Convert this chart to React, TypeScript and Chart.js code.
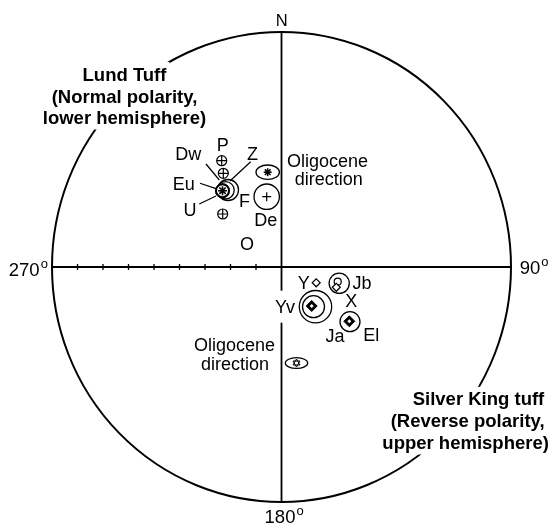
import React, { useEffect, useRef } from 'react';
import { Chart, registerables } from 'chart.js';

Chart.register(...registerables);

const FONT = '"Liberation Sans", Arial, Helvetica, sans-serif';

// ---- Net frame (values in net degrees, centre = 0, rim = 90) ----
const netRange = 90;
const tickValues = [-80, -70, -60, -50, -40, -30, -20, -10];

const compassText = ['N', '90', '180', '270'];
const compassDegree = [false, true, true, true];
const compassX = [0.08, 97.45, -0.59, -100.9];
const compassY = [94.4, -0.19, -95.55, -0.77];

// ---- Site directions (net x / y) ----
const crossCircleX = [-23.45, -22.82, -23.06];
const crossCircleY = [40.71, 35.89, 20.3];
const hashX = [-23.14];
const hashY = [29.22];
const asteriskX = [-5.41];
const asteriskY = [36.31];
const plusX = [-5.8];
const plusY = [26.92];
const openDiamondX = [13.61, 21.49];
const openDiamondY = [-6.05, -7.77];
const smallCircleX = [22.04];
const smallCircleY = [-5.63];
const solidDiamondX = [11.84, 26.59];
const solidDiamondY = [-14.94, -20.8];
const starX = [5.88];
const starY = [-36.77];

// ---- Confidence ovals (centre x/y, semi-axes in net degrees) ----
const ovalX = [-23.14, -21.96, -20.98, -5.41, -5.8, 22.63, 13.33, 12.55, 26.86, 5.88];
const ovalY = [29.22, 29.37, 29.49, 36.31, 26.92, -6.24, -15.2, -15.2, -20.95, -36.77];
const ovalRx = [2.63, 3.41, 4.12, 4.59, 4.98, 3.96, 6.35, 4.31, 3.92, 4.39];
const ovalRy = [2.57, 3.33, 4.02, 2.76, 4.86, 3.87, 6.2, 4.21, 3.83, 2.05];

// ---- Site labels ----
const labelText = ['P', 'Dw', 'Eu', 'U', 'Z', 'F', 'De', 'O', 'Y', 'Jb', 'Yv', 'X', 'Ja', 'El'];
const labelX = [-23.02, -36.55, -38.35, -35.88, -11.37, -14.51, -6.2, -13.53, 8.71, 31.57, 1.37, 27.37, 20.98, 35.22];
const labelY = [47.03, 43.28, 32.06, 21.83, 43.54, 25.54, 18.11, 8.81, -6.05, -5.94, -15.2, -12.94, -26.35, -26.04];

// ---- Leader lines ----
const leaderFromX = [-29.61, -31.96, -32.24, -12.08];
const leaderFromY = [39.45, 32.06, 24.13, 40.33];
const leaderToX = [-24.39, -25.69, -25.69, -20.2];
const leaderToY = [33.32, 29.99, 27.19, 32.94];

// ---- Notes ----
const noteText = ['Oligocene', 'direction', 'Oligocene', 'direction'];
const noteX = [18.04, 18.55, -18.43, -18.24];
const noteY = [40.6, 33.78, -29.68, -36.88];

// ---- Titles ----
const titleText = [
  'Lund Tuff',
  '(Normal polarity,',
  'lower hemisphere)',
  'Silver King tuff',
  '(Reverse polarity,',
  'upper hemisphere)',
];
const titleX = [-61.57, -61.57, -61.57, 77.25, 73.0, 72.2];
const titleY = [73.92, 65.49, 57.26, -50.48, -58.9, -67.21];

const pts = (xs: number[], ys: number[]) => xs.map((x, i) => ({ x, y: ys[i] }));

function setFont(ctx: CanvasRenderingContext2D, size: number, bold: boolean) {
  ctx.font = `${bold ? 'bold ' : ''}${size}px ${FONT}`;
}

function drawCentered(
  ctx: CanvasRenderingContext2D,
  s: string,
  x: number,
  y: number,
  size: number,
  bold: boolean,
) {
  setFont(ctx, size, bold);
  ctx.textAlign = 'center';
  ctx.textBaseline = 'alphabetic';
  ctx.fillStyle = '#000';
  ctx.fillText(s, x, y + 0.358 * size);
}

const netPlugin = {
  id: 'stereonet',
  beforeDatasetsDraw(chart: any) {
    const ctx: CanvasRenderingContext2D = chart.ctx;
    const xs = chart.scales.x;
    const ys = chart.scales.y;
    const X = (v: number) => xs.getPixelForValue(v);
    const Y = (v: number) => ys.getPixelForValue(v);
    const cx = X(0);
    const cy = Y(0);
    const rx = X(netRange) - cx;
    const ry = cy - Y(netRange);

    ctx.save();
    ctx.strokeStyle = '#000';
    ctx.lineCap = 'butt';

    // primitive circle
    ctx.lineWidth = 2;
    ctx.beginPath();
    ctx.ellipse(cx, cy, rx, ry, 0, 0, Math.PI * 2);
    ctx.stroke();

    // axes
    ctx.lineWidth = 1.8;
    ctx.beginPath();
    ctx.moveTo(X(-netRange), cy);
    ctx.lineTo(X(netRange), cy);
    ctx.moveTo(cx, Y(netRange));
    ctx.lineTo(cx, Y(-netRange));
    ctx.stroke();

    // ticks
    ctx.lineWidth = 1.3;
    ctx.beginPath();
    tickValues.forEach((t) => {
      const px = X(t);
      ctx.moveTo(px, cy - 3);
      ctx.lineTo(px, cy + 3);
    });
    ctx.stroke();

    // confidence ovals
    ctx.lineWidth = 1.3;
    ovalX.forEach((ox, i) => {
      const px = X(ox);
      const py = Y(ovalY[i]);
      const a = X(ox + ovalRx[i]) - px;
      const b = py - Y(ovalY[i] + ovalRy[i]);
      ctx.beginPath();
      ctx.ellipse(px, py, a, b, 0, 0, Math.PI * 2);
      ctx.stroke();
    });

    // leader lines
    ctx.lineWidth = 1.2;
    ctx.beginPath();
    leaderFromX.forEach((fx, i) => {
      ctx.moveTo(X(fx), Y(leaderFromY[i]));
      ctx.lineTo(X(leaderToX[i]), Y(leaderToY[i]));
    });
    ctx.stroke();

    // site labels (white knock-out where they cross the N-S axis)
    const labelSize = 18;
    labelText.forEach((s, i) => {
      const px = X(labelX[i]);
      const py = Y(labelY[i]);
      setFont(ctx, labelSize, false);
      const w = ctx.measureText(s).width;
      if (px - w / 2 - 2 < cx && px + w / 2 + 2 > cx) {
        ctx.fillStyle = '#fff';
        ctx.fillRect(px - w / 2 - 2, py - 16, w + 4, 32);
      }
      drawCentered(ctx, s, px, py, labelSize, false);
    });

    // notes
    noteText.forEach((s, i) => {
      drawCentered(ctx, s, X(noteX[i]), Y(noteY[i]), 18, false);
    });

    // titles with white knock-out over the primitive circle
    const titleSize = 18.5;
    titleText.forEach((s, i) => {
      const px = X(titleX[i]);
      const py = Y(titleY[i]);
      setFont(ctx, titleSize, true);
      const w = ctx.measureText(s).width;
      ctx.fillStyle = '#fff';
      ctx.fillRect(px - w / 2 - 3, py - 12, w + 6, 24);
    });
    titleText.forEach((s, i) => {
      drawCentered(ctx, s, X(titleX[i]), Y(titleY[i]), titleSize, true);
    });

    // compass labels
    compassText.forEach((s, i) => {
      const px = X(compassX[i]);
      const py = Y(compassY[i]);
      const size = compassDegree[i] ? 18.5 : 16.5;
      drawCentered(ctx, s, px, py, size, false);
      if (compassDegree[i]) {
        setFont(ctx, size, false);
        const w = ctx.measureText(s).width;
        setFont(ctx, 13, false);
        ctx.textAlign = 'left';
        ctx.textBaseline = 'alphabetic';
        ctx.fillText('o', px + w / 2 + 1, py - 4.5 + 0.26 * 13);
      }
    });

    ctx.restore();
  },
};

export default function App() {
  const ref = useRef<HTMLCanvasElement | null>(null);

  useEffect(() => {
    if (!ref.current) return;
    const black = '#000';
    const base = {
      showLine: false,
      borderColor: black,
      pointBorderColor: black,
      pointHoverRadius: 0,
    };
    // Chart.js paints the first dataset last (on top): overlays come first.
    const chart = new Chart(ref.current, {
      type: 'scatter',
      data: {
        datasets: [
          { ...base, data: pts(crossCircleX, crossCircleY), pointStyle: 'cross', pointRadius: 5, pointBorderWidth: 1.2 },
          { ...base, data: pts(crossCircleX, crossCircleY), pointStyle: 'circle', pointRadius: 5, pointBorderWidth: 1.2, pointBackgroundColor: '#fff' },
          { ...base, data: pts(hashX, hashY), pointStyle: 'star', pointRadius: 4.5, pointBorderWidth: 1.6 },
          { ...base, data: pts(hashX, hashY), pointStyle: 'circle', pointRadius: 6.5, pointBorderWidth: 2, pointBackgroundColor: '#fff' },
          { ...base, data: pts(asteriskX, asteriskY), pointStyle: 'star', pointRadius: 4, pointBorderWidth: 1.5 },
          { ...base, data: pts(plusX, plusY), pointStyle: 'cross', pointRadius: 4.5, pointBorderWidth: 1.2 },
          { ...base, data: pts(openDiamondX, openDiamondY), pointStyle: 'rectRot', pointRadius: 4, pointBorderWidth: 1.2, pointBackgroundColor: '#fff' },
          { ...base, data: pts(smallCircleX, smallCircleY), pointStyle: 'circle', pointRadius: 3.5, pointBorderWidth: 1.2, pointBackgroundColor: 'rgba(0,0,0,0)' },
          { ...base, data: pts(solidDiamondX, solidDiamondY), pointStyle: 'rectRot', pointRadius: 2, pointBorderWidth: 0, pointBorderColor: '#fff', pointBackgroundColor: '#fff' },
          { ...base, data: pts(solidDiamondX, solidDiamondY), pointStyle: 'rectRot', pointRadius: 5.5, pointBorderWidth: 1, pointBackgroundColor: black },
          { ...base, data: pts(starX, starY), pointStyle: 'triangle', pointRotation: 180, pointRadius: 4, pointBorderWidth: 1, pointBackgroundColor: 'rgba(0,0,0,0)' },
          { ...base, data: pts(starX, starY), pointStyle: 'triangle', pointRadius: 4, pointBorderWidth: 1, pointBackgroundColor: 'rgba(0,0,0,0)' },
        ],
      },
      options: {
        responsive: false,
        animation: false,
        events: [],
        layout: { padding: { left: 52, right: 48, top: 32, bottom: 22 } },
        scales: {
          x: { type: 'linear', min: -netRange, max: netRange, display: false },
          y: { type: 'linear', min: -netRange, max: netRange, display: false },
        },
        plugins: { legend: { display: false }, tooltip: { enabled: false } },
      },
      plugins: [netPlugin],
    } as any);
    return () => chart.destroy();
  }, []);

  return (
    <div style={{ position: 'absolute', left: 0, top: 0, width: 559, height: 524, background: '#fff' }}>
      <canvas ref={ref} width={559} height={524} style={{ display: 'block', width: 559, height: 524 }} />
    </div>
  );
}
